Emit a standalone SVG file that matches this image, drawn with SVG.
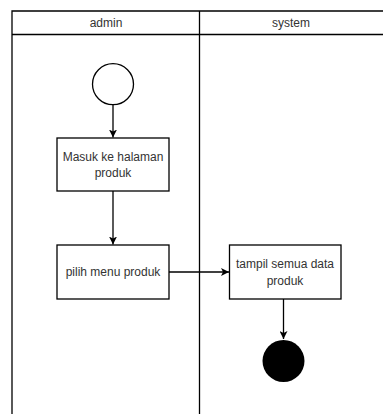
<svg xmlns="http://www.w3.org/2000/svg" width="383" height="414" viewBox="0 0 383 414">
  <style>
    .lane { fill: none; stroke: #000; stroke-width: 1.3; }
    .box { fill: #fff; stroke: #000; stroke-width: 1.3; }
    .lbl { font-family: "Liberation Sans", Arial, sans-serif; font-size: 12px; fill: #333; text-anchor: middle; }
    .edge { fill: none; stroke: #000; stroke-width: 1.3; }
  </style>
  <defs>
    <marker id="arrow" viewBox="0 0 10 10" refX="10" refY="5" markerWidth="8" markerHeight="8" markerUnits="userSpaceOnUse" orient="auto">
      <path d="M0,0 L10,5 L0,10 L2.5,5 Z" fill="#000"/>
    </marker>
  </defs>
  <rect width="383" height="414" fill="#fff"/>

  <!-- swimlanes -->
  <g id="lanes">
    <path class="lane" d="M12,414 V11 H390"/>
    <path class="lane" d="M12,34.5 H390"/>
    <path class="lane" d="M199.5,11 V414"/>
    <text class="lbl" x="106" y="27">admin</text>
    <text class="lbl" x="291" y="27">system</text>
  </g>

  <!-- connectors -->
  <g id="connectors">
    <path class="edge" d="M113,105 V137.5" marker-end="url(#arrow)"/>
    <path class="edge" d="M113,191 V244.5" marker-end="url(#arrow)"/>
    <path class="edge" d="M169,272 H229" marker-end="url(#arrow)"/>
    <path class="edge" d="M283.5,299 V339" marker-end="url(#arrow)"/>
  </g>

  <g id="start">
    <circle cx="113" cy="84.2" r="20.5" fill="#fff" stroke="#000" stroke-width="1.3"/>
  </g>

  <g id="masuk">
    <rect class="box" x="57" y="138" width="112" height="53"/>
    <text class="lbl" x="113" y="161">Masuk ke halaman</text>
    <text class="lbl" x="113" y="177">produk</text>
  </g>

  <g id="pilih">
    <rect class="box" x="57" y="245" width="112" height="54"/>
    <text class="lbl" x="113" y="276">pilih menu produk</text>
  </g>

  <g id="tampil">
    <rect class="box" x="229.5" y="245" width="111.5" height="54"/>
    <text class="lbl" x="285" y="268">tampil semua data</text>
    <text class="lbl" x="285" y="285">produk</text>
  </g>

  <g id="end">
    <circle cx="283.5" cy="361" r="21" fill="#000"/>
  </g>
</svg>
